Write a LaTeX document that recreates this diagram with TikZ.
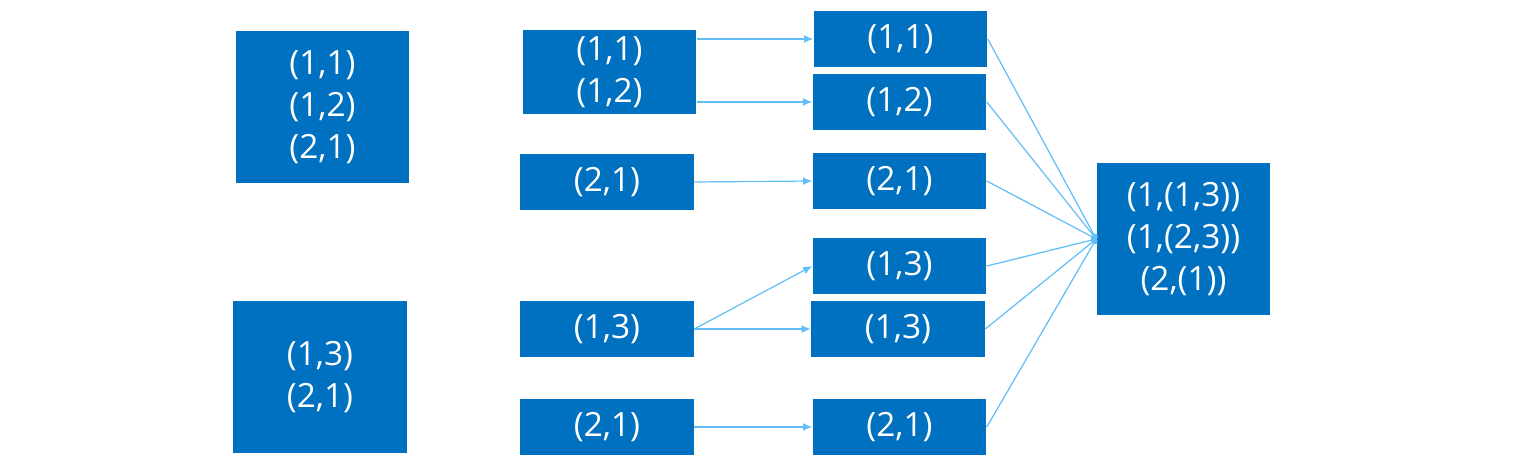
\documentclass[tikz,border=0pt]{standalone}
\usepackage{fontspec}
\setmainfont{Open Sans}
\usetikzlibrary{positioning,calc,arrows.meta}
\definecolor{boxblue}{HTML}{0070C0}
\definecolor{lineblue}{HTML}{62BEF6}
\begin{document}
\begin{tikzpicture}[x=0.01cm, y=-0.01cm, >={Latex[length=2.6pt,width=2.2pt]},
    blk/.style={fill=boxblue, text=white, inner sep=0pt, align=center,
        minimum width=1.73cm, font=\fontsize{9.5}{12}\selectfont},
    tall/.style={blk, minimum height=1.52cm},
    mid/.style={blk, minimum height=0.84cm},
    flat/.style={blk, minimum height=0.56cm},
    link/.style={draw=lineblue, line width=0.35pt}]
    \useasboundingbox (0,0) rectangle (1536,461);
    % Left column
    \node [tall] (a1) at (322.5,107) {(1,1)\\(1,2)\\(2,1)};
    \node [tall] (a2) at (320,377) {(1,3)\\(2,1)};

    % Second column
    \node [mid] (b1) at (609.5,72) {(1,1)\\(1,2)};
    \node [flat] (b2) at (607,182) {(2,1)};
    \node [flat] (b3) at (607,329) {(1,3)};
    \node [flat] (b4) at (607,427) {(2,1)};

    % Third column
    \node [flat] (c1) at (900.5,39) {(1,1)};
    \node [flat] (c2) at (899.5,102) {(1,2)};
    \node [flat] (c3) at (899.5,181) {(2,1)};
    \node [flat] (c4) at (899.5,266) {(1,3)};
    \node [flat] (c5) at (898,329) {(1,3)};
    \node [flat] (c6) at (899.5,427) {(2,1)};

    % Result
    \node [tall] (d) at (1183.5,239) {(1,(1,3))\\(1,(2,3))\\(2,(1))};

    % Arrows
    \draw [link,->] (b1.east |- c1.west) -- (c1.west);
    \draw [link,->] (b1.east |- c2.west) -- (c2.west);
    \draw [link,->] (b2.east) -- (c3.west);
    \draw [link,->] (b3.east) -- (c4.west);
    \draw [link,->] (b3.east) -- (c5.west);
    \draw [link,->] (b4.east) -- (c6.west);
    \foreach \n in {c1,c2,c3,c4,c5,c6}
        \draw [link,-{Circle[length=1.6pt]}] (\n.east) -- (d.west);
\end{tikzpicture}
\end{document}
